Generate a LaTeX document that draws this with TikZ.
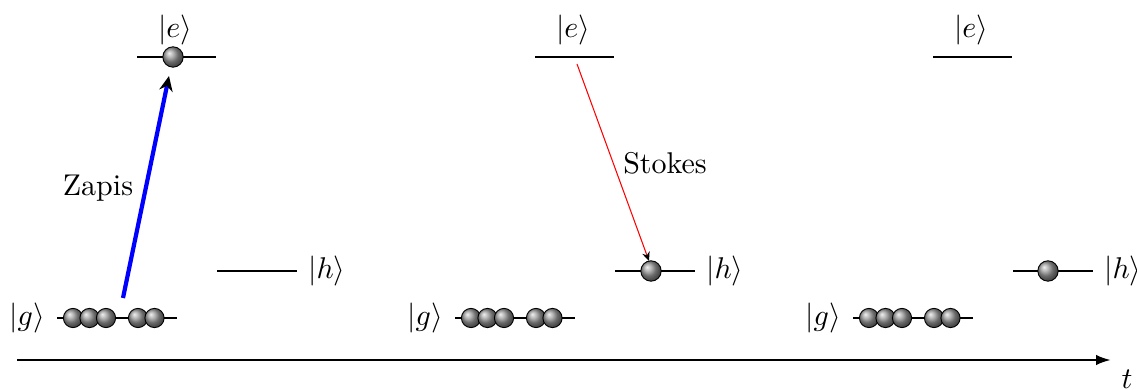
\documentclass[tikz,border=0pt]{standalone}
\usetikzlibrary{arrows.meta}
\begin{document}
\begin{tikzpicture}[x=1pt/3,y=-1pt/3,
  lvl/.style={line width=0.75pt},
  ball/.style={circle,draw=black,line width=0.3pt,shading=ball,ball color=gray!80,inner sep=0pt,minimum size=6.4pt},
  bigball/.style={ball,minimum size=6.8pt},
  ket/.style={inner sep=0pt,font=\normalsize},
  lbl/.style={inner sep=0pt},
  pump/.style={blue,line width=1.4pt,-{Stealth[black,length=5pt,width=4.5pt]}},
  stokes/.style={red,line width=0.35pt,-{Stealth[black,length=3pt,width=2.6pt]}},
  axis/.style={line width=0.8pt,-{Latex[length=5pt,width=3.5pt]}}]
\useasboundingbox (0,0) rectangle (1137,390);
\foreach \i/\dx in {1/0,2/398,3/796}{
  % levels
  \coordinate (eL\i) at (137+\dx,57);  \coordinate (eR\i) at (216+\dx,57);
  \coordinate (hL\i) at (217+\dx,271); \coordinate (hR\i) at (297+\dx,271);
  \coordinate (gL\i) at (57+\dx,318);  \coordinate (gR\i) at (177+\dx,318);
  \draw[lvl] (eL\i) -- (eR\i);
  \draw[lvl] (hL\i) -- (hR\i);
  \draw[lvl] (gL\i) -- (gR\i);
  \node[ket] (ke\i) at (175+\dx,30) {$|e\rangle$};
  \node[ket] (kh\i) at (327+\dx,271) {$|h\rangle$};
  \node[ket] (kg\i) at (27+\dx,318) {$|g\rangle$};
  \foreach \j/\bx in {a/73,b/89.5,c/106,d/138,e/154.5}{
    \node[ball] (g\i\j) at (\bx+\dx,318) {};
  }
}
% panel 1
\node[bigball] (be1) at (173,57) {};
\coordinate (p1s) at (123,298);
\coordinate (p1e) at (169,76);
\draw[pump] (p1s) -- (p1e);
\node[lbl] (zapis) at (98,188) {Zapis};
% panel 2
\node[bigball] (bh2) at (651,271) {};
\coordinate (s2s) at (577,64);
\coordinate (s2e) at (649,261);
\draw[stokes] (s2s) -- (s2e);
\node[lbl] (stk) at (665,163) {Stokes};
% panel 3
\node[bigball] (bh3) at (1048,271) {};
% time axis
\coordinate (tA) at (17,360);
\coordinate (tB) at (1111,360);
\draw[axis] (tA) -- (tB);
\node[lbl] (tl) at (1127,379) {$t$};
\end{tikzpicture}
\end{document}
